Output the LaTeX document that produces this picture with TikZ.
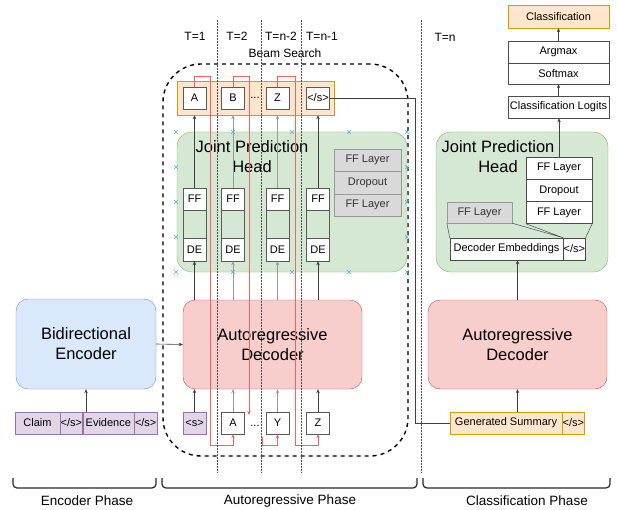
\documentclass[tikz,border=0pt]{standalone}
\usepackage{fontspec}
\setmainfont{Liberation Sans}
\usetikzlibrary{arrows.meta,positioning}

\definecolor{encfill}{HTML}{DAE8FC}\definecolor{encdraw}{HTML}{6C8EBF}
\definecolor{decfill}{HTML}{F8CECC}\definecolor{decdraw}{HTML}{B85450}
\definecolor{jphfill}{HTML}{D5E8D4}\definecolor{jphdraw}{HTML}{82B366}
\definecolor{orgfill}{HTML}{FFE6CC}\definecolor{orgdraw}{HTML}{D79B00}
\definecolor{purfill}{HTML}{E1D5E7}\definecolor{purdraw}{HTML}{9673A6}
\definecolor{beamred}{HTML}{F26464}
\definecolor{markblue}{HTML}{3FB6E8}

\tikzset{
    txt/.style={font=\fontsize{11}{13}\selectfont},
    bigtxt/.style={font=\fontsize{16.5}{20}\selectfont, align=center},
    tok/.style={txt, draw=black!65, fill=white, inner sep=0pt, minimum width=23pt, minimum height=22pt},
    greycell/.style={txt, draw=black!40, fill=black!15, text=black!80, inner sep=0pt, minimum height=22.5pt, minimum width=67pt},
    whitecell/.style={txt, draw=black!70, fill=white, inner sep=0pt, minimum height=22pt},
    inpcell/.style={txt, inner sep=0pt, minimum height=22pt},
    blockbox/.style={bigtxt, rounded corners=12pt, minimum width=179pt, minimum height=89pt},
    jphbox/.style={draw=jphdraw, fill=jphfill, rounded corners=15pt, minimum height=140pt},
    conn/.style={draw=black!75, line width=0.6pt, -{Stealth[length=4pt,width=3.5pt]}},
    redconn/.style={draw=beamred, line width=0.6pt, -{Stealth[length=4pt,width=3.5pt]}},
    tline/.style={black!70, densely dotted, line width=0.5pt},
    phase/.style={black!85, line width=1.2pt, rounded corners=4pt},
    phasetxt/.style={font=\fontsize{13.5}{16}\selectfont},
    tlabel/.style={font=\fontsize{12}{14}\selectfont},
}

\begin{document}
\begin{tikzpicture}[x=1pt,y=-1pt]
\useasboundingbox (0,0) rectangle (617,510);

% encoder phase
\node[blockbox, draw=encdraw, fill=encfill, minimum width=140pt, minimum height=90pt] (enc) at (86,344) {Bidirectional\\Encoder};
\node[inpcell, draw=purdraw, fill=purfill, minimum width=45pt] (claim) at (37.5,423) {Claim};
\node[inpcell, draw=purdraw, fill=purfill, minimum width=22pt, anchor=west] (sep1) at (claim.east) {</s>};
\node[inpcell, draw=purdraw, fill=purfill, minimum width=51pt, anchor=west] (evid) at (sep1.east) {Evidence};
\node[inpcell, draw=purdraw, fill=purfill, minimum width=23pt, anchor=west] (sep2) at (evid.east) {</s>};
\draw[conn] (enc.south |- claim.north) -- (enc.south);

% autoregressive phase
\node[draw, dashed, line width=1.4pt, dash pattern=on 4pt off 4pt, rounded corners=38pt,
      minimum width=245pt, minimum height=392pt] (beam) at (285.5,260) {};
\node[tlabel] (beamlbl) at (285,53) {Beam Search};

\node[jphbox, minimum width=230pt] (jphL) at (292,202) {};
\node[bigtxt] at (252,157) {Joint Prediction\\Head};
\node[greycell] (gff1) at (367.5,160) {FF Layer};
\node[greycell] (gdrop) at (367.5,182.5) {Dropout};
\node[greycell] (gff2) at (367.5,205) {FF Layer};

\node[draw=orgdraw, fill=orgfill, minimum width=157pt, minimum height=34pt] (bar) at (255.5,98) {};
\node[tok] (tA) at (194.5,98) {A};
\node[tok] (tB) at (233,98) {B};
\node[txt] (tdots) at (255,98) {...};
\node[tok] (tZ) at (277.5,98) {Z};
\node[tok] (tEnd) at (318,98) {</s>};

\node[blockbox, draw=decdraw, fill=decfill] (decL) at (272.5,344.5) {Autoregressive\\Decoder};

\node[tok, draw=purdraw, fill=purfill] (bS) at (194.5,423) {<s>};
\node[tok] (bA) at (233,423) {A};
\node[txt] (bdots) at (255,426) {...};
\node[tok] (bY) at (277.5,423) {Y};
\node[tok] (bZ) at (318,423) {Z};

\foreach \n/\x/\c in {1/194.5/black!75, 2/233/black!40, 3/277.5/black!40, 4/318/black!75} {
    \node[tok, minimum height=22pt] (ff\n) at (\x,199) {FF};
    \node[draw=black!65, minimum width=23pt, minimum height=28pt] (mid\n) at (\x,224) {};
    \node[tok, minimum height=23pt] (de\n) at (\x,249.5) {DE};
    \draw[conn, draw=\c] (decL.north -| de\n) -- (de\n.south);
    \draw[conn, draw=\c] (ff\n.north) -- (bar.south -| ff\n);
}

\draw[conn] (bS.north) -- (decL.south -| bS);
\draw[conn, draw=black!40] (bA.north) -- (decL.south -| bA);
\draw[conn, draw=black!40] (bY.north) -- (decL.south -| bY);
\draw[conn] (bZ.north) -- (decL.south -| bZ);
\draw[conn] (enc.east) -- (decL.west);

% feeding the chosen tokens back in
\coordinate (dotsin) at (249,415);
\coordinate (dotsout) at (262,437);
\draw[redconn] (tA.north) |- (210,76) -- (210,445) -| (bA.south);
\draw[redconn] (tB.north) |- (249,76) -- (dotsin);
\draw[redconn] (dotsout) |- (bY.south |- 0,445) -- (bY.south);
\draw[redconn] (tZ.north) |- (295,76) -- (295,445) -| (bZ.south);

% draw.io selection marks
\foreach \x/\y in {176/132,233/132,292/132,349/132,407/132,176/272,233/272,292/272,349/272,407/272,
                   176/167,176/202,176/237,407/167,407/202,407/237} {
    \draw[markblue, line width=0.5pt] (\x-1.8,\y-1.8) -- (\x+1.8,\y+1.8) (\x-1.8,\y+1.8) -- (\x+1.8,\y-1.8);
}

% classification phase
\node[jphbox, minimum width=172pt] (jphR) at (522,202) {};
\node[bigtxt] at (498,157) {Joint Prediction\\Head};
\node[whitecell, minimum width=66pt] (rff1) at (559,168) {FF Layer};
\node[whitecell, minimum width=66pt, minimum height=23pt] (rdrop) at (559,190.5) {Dropout};
\node[whitecell, minimum width=66pt] (rff2) at (559,212.5) {FF Layer};
\node[greycell, minimum width=65pt, minimum height=21pt] (rgff) at (479.5,212.5) {FF Layer};
\node[whitecell, minimum width=113pt] (demb) at (506.5,249) {Decoder Embeddings};
\node[whitecell, minimum width=22pt, anchor=west] (dend) at (demb.east) {</s>};
\draw[black!70, line width=0.5pt] (rgff.south west) -- (demb.north west)
    (rgff.south east) -- (dend.north west)
    (rff2.south west) -- (dend.north west)
    (rff2.south east) -- (dend.north east);

\node[whitecell, minimum width=101pt] (logits) at (558.5,107) {Classification Logits};
\node[whitecell, minimum width=101pt, minimum height=21pt] (softmax) at (558.5,73.5) {Softmax};
\node[whitecell, minimum width=101pt] (argmax) at (558.5,52) {Argmax};
\node[txt, draw=orgdraw, fill=orgfill, minimum width=101pt, minimum height=23pt] (cls) at (558.5,16.5) {Classification};

\node[blockbox, draw=decdraw, fill=decfill] (decR) at (517.5,344.5) {Autoregressive\\Decoder};
\node[inpcell, draw=orgdraw, fill=orgfill, minimum width=112pt] (gsum) at (506,423) {Generated Summary};
\node[inpcell, draw=orgdraw, fill=orgfill, minimum width=22pt, anchor=west] (gend) at (gsum.east) {</s>};

\draw[conn] (decR.south |- gsum.north) -- (decR.south);
\draw[conn] (decR.north) -- (decR.north |- demb.south);
\draw[conn] (rff1.north) -- (logits.south -| rff1);
\draw[conn] (logits.north) -- (softmax.south);
\draw[conn] (argmax.north) -- (cls.south);
\draw[black!75, line width=0.6pt] (tEnd.east) -| (415,423) -- (gsum.west);

% time steps
\foreach \x in {217,261,301,421} {
    \draw[tline] (\x,20) -- (\x,473);
}
\node[tlabel] (t1) at (195,36) {T=1};
\node[tlabel] (t2) at (237,36) {T=2};
\node[tlabel] (t3) at (281,36) {T=n-2};
\node[tlabel] (t4) at (322,36) {T=n-1};
\node[tlabel] (t5) at (445,37) {T=n};

% phases
\draw[phase] (13,478) -- (13,488) -- (156,488) -- (156,478);
\draw[phase] (162,478) -- (162,488) -- (417,488) -- (417,478);
\draw[phase] (423,478) -- (423,488) -- (610,488) -- (610,478);
\node[phasetxt] (p1) at (87,501) {Encoder Phase};
\node[phasetxt] (p2) at (290,501) {Autoregressive Phase};
\node[phasetxt] (p3) at (527,501) {Classification Phase};
\end{tikzpicture}
\end{document}
